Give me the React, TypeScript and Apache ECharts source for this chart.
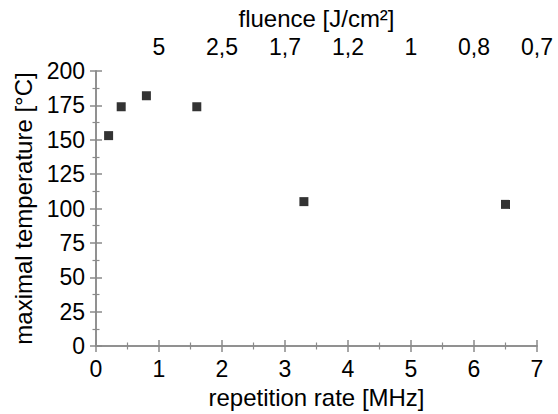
import React, { useEffect, useRef } from "react";
import * as echarts from "echarts";

const repRate = [0.2, 0.4, 0.8, 1.6, 3.3, 6.5];
const maxTemp = [153, 174, 182, 174, 105, 103];
const fluenceTickPos = [1, 2, 3, 4, 5, 6, 7];
const fluenceTickLabels = ["5", "2,5", "1,7", "1,2", "1", "0,8", "0,7"];

const FONT = "Liberation Sans";
const AXIS_COLOR = "#8a8a8a";
const TEXT_COLOR = "#000";

export default function App() {
  const ref = useRef<HTMLDivElement>(null);
  useEffect(() => {
    if (!ref.current) return;
    const chart = echarts.init(ref.current, undefined, { renderer: "svg" });
    const axisLine = { show: true, lineStyle: { color: AXIS_COLOR, width: 1.5 } };
    const axisTick = { show: true, inside: true, length: 6, lineStyle: { color: AXIS_COLOR, width: 1.5 } };
    const minorTick = { show: true, splitNumber: 2, length: 3.5, lineStyle: { color: AXIS_COLOR, width: 1.2 } };
    const labelBase = { fontFamily: FONT, fontSize: 23, color: TEXT_COLOR };
    const nameBase = { fontFamily: FONT, fontSize: 24, color: TEXT_COLOR };
    chart.setOption({
      animation: false,
      backgroundColor: "#fff",
      grid: { left: 96, right: 21, top: 71, bottom: 64 },
      xAxis: [
        {
          type: "value",
          position: "bottom",
          min: 0,
          max: 7,
          interval: 1,
          name: "repetition rate [MHz]",
          nameLocation: "middle",
          nameGap: 39,
          nameTextStyle: nameBase,
          axisLine,
          axisTick,
          minorTick,
          splitLine: { show: false },
          axisLabel: { ...labelBase, margin: 11 },
        },
        {
          type: "value",
          position: "top",
          min: 0,
          max: 7,
          interval: 1,
          name: "fluence [J/cm²]",
          nameLocation: "middle",
          nameGap: 40,
          nameTextStyle: nameBase,
          axisLine,
          axisTick,
          minorTick,
          splitLine: { show: false },
          axisLabel: {
            ...labelBase,
            margin: 13,
            formatter: (v: number) => {
              const i = fluenceTickPos.indexOf(Math.round(v));
              return i >= 0 ? fluenceTickLabels[i] : "";
            },
          },
        },
      ],
      yAxis: [
        {
          type: "value",
          position: "left",
          min: 0,
          max: 200,
          interval: 25,
          name: "maximal temperature [°C]",
          nameLocation: "middle",
          nameGap: 56,
          nameTextStyle: nameBase,
          axisLine,
          axisTick,
          minorTick,
          splitLine: { show: false },
          axisLabel: { ...labelBase, margin: 11 },
        },
        {
          type: "value",
          position: "right",
          min: 0,
          max: 200,
          interval: 25,
          axisLine,
          axisTick,
          minorTick,
          splitLine: { show: false },
          axisLabel: { show: false },
        },
      ],
      series: [
        {
          type: "scatter",
          xAxisIndex: 0,
          yAxisIndex: 0,
          symbol: "rect",
          symbolSize: 9,
          itemStyle: { color: "#000" },
          data: repRate.map((x, i) => [x, maxTemp[i]]),
        },
      ],
    });
    return () => chart.dispose();
  }, []);
  return (
    <div
      ref={ref}
      style={{ position: "absolute", left: 0, top: 0, width: 558, height: 414 }}
    />
  );
}
